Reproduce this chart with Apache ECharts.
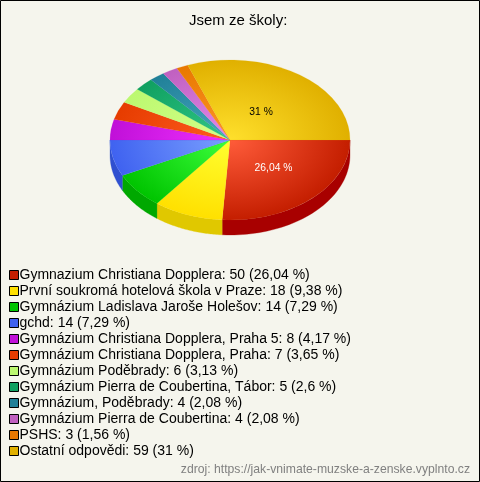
<!DOCTYPE html>
<html><head><meta charset="utf-8">
<style>html,body{margin:0;padding:0;background:#f5f5ed}#c{width:480px;height:482px}</style>
<script src="https://cdn.jsdelivr.net/npm/echarts@6/dist/echarts.min.js"></script>
</head><body><div id="c"></div>
<script>
const names = ["Gymnazium Christiana Dopplera","První soukromá hotelová škola v Praze","Gymnázium Ladislava Jaroše Holešov","gchd","Gymnázium Christiana Dopplera, Praha 5","Gymnázium Christiana Dopplera, Praha","Gymnázium Poděbrady","Gymnázium Pierra de Coubertina, Tábor","Gymnázium, Poděbrady","Gymnázium Pierra de Coubertina","PSHS","Ostatní odpovědi"];
const values = [50,18,14,14,8,7,6,5,4,4,3,59];
const percents = ["26,04","9,38","7,29","7,29","4,17","3,65","3,13","2,6","2,08","2,08","1,56","31"];
const innerColors = ["#ff5c3a","#ffff30","#3cff3c","#7aa0ff","#f030ff","#ff5c20","#d4ff88","#30c888","#48a8c0","#e488ec","#ff9428","#ffe02c"];
const edgeColors = ["#c41e00","#ffe000","#00c400","#3f62f0","#c010d8","#e63c00","#bcf870","#10a060","#208098","#c060c0","#e87800","#e0b000"];
const wallColors = ["#a80000","#e0c800","#00a800","#3050d0","#9000a8","#b83000","#98c858","#0c8050","#186880","#984898","#b86000","#b08c00"];
const labelColors = {0:"#ffffff",11:"#000000"};

const CX=230, CY=140, RX=120, RY=80, DEPTH=15;
const LABEL_F = {0:[0.53,0.48],11:[0.455,0.42]};
const total = values.reduce((a,b)=>a+b,0);
const starts = []; let acc = 0;
values.forEach(v=>{starts.push(acc/total*Math.PI*2); acc+=v;});

function renderSlice(i){
  return function(params, api){
    const a0 = starts[i], a1 = a0 + values[i]/total*Math.PI*2;
    const kids = [];
    const w0 = Math.max(a0,0), w1 = Math.min(a1,Math.PI);
    if (w1 > w0){
      const pts = [], n = 48;
      for(let k=0;k<=n;k++){const t=w0+(w1-w0)*k/n; pts.push([CX+RX*Math.cos(t),CY+RY*Math.sin(t)]);}
      for(let k=n;k>=0;k--){const t=w0+(w1-w0)*k/n; pts.push([CX+RX*Math.cos(t),CY+DEPTH+RY*Math.sin(t)]);}
      kids.push({type:'polygon',shape:{points:pts},style:{fill:wallColors[i],stroke:wallColors[i],lineWidth:0.3}});
    }
    kids.push({type:'sector',
      shape:{cx:CX,cy:CY,r:RX,r0:0,startAngle:a0,endAngle:a1,clockwise:true},
      originX:CX,originY:CY,scaleY:RY/RX,
      style:{fill:{type:'radial',x:CX,y:CY,r:RX,global:true,
        colorStops:[{offset:0,color:innerColors[i]},{offset:1,color:edgeColors[i]}]},
        stroke:edgeColors[i],lineWidth:0.2}});
    if (labelColors[i]){
      const m=(a0+a1)/2, f=LABEL_F[i];
      kids.push({type:'text',x:CX+RX*f[0]*Math.cos(m),y:CY+RY*f[1]*Math.sin(m),
        style:{text:percents[i]+' %',fill:labelColors[i],font:'10.3px "Liberation Sans",Arial,sans-serif',align:'center',verticalAlign:'middle'}});
    }
    return {type:'group',children:kids};
  };
}
const legendName = i => names[i]+': '+values[i]+' ('+percents[i]+' %)';
const chart = echarts.init(document.getElementById('c'),null,{renderer:'canvas'});
chart.setOption({
  backgroundColor:'#f5f5ed',animation:false,
  title:[
    {text:'Jsem ze školy:',left:189,top:13,padding:0,textStyle:{fontFamily:'"Liberation Sans"',fontSize:15,fontWeight:'normal',color:'#000'}},
    {text:'zdroj: https://jak-vnimate-muzske-a-zenske.vyplnto.cz',right:10,top:464,padding:0,textStyle:{fontFamily:'"Liberation Sans"',fontSize:12.2,fontWeight:'normal',color:'#808080'}}
  ],
  legend:{orient:'vertical',left:9,top:268,padding:0,itemWidth:9,itemHeight:9,itemGap:2,selectedMode:false,icon:'rect',
    data:names.map((n,i)=>({name:legendName(i),icon:'rect',itemStyle:{color:edgeColors[i],borderColor:'#000',borderWidth:1}})),
    textStyle:{fontFamily:'"Liberation Sans"',fontSize:14,color:'#000',padding:[0,0,0,-4],lineHeight:12}},
  graphic:[{type:'rect',shape:{x:0.5,y:0.5,width:479,height:481},style:{fill:'none',stroke:'#000',lineWidth:1},silent:true}],
  xAxis:{show:false},yAxis:{show:false},
  series:values.map((v,i)=>({type:'custom',name:legendName(i),coordinateSystem:'none',data:[v],silent:true,
    itemStyle:{color:edgeColors[i]},renderItem:renderSlice(i)}))
});
</script></body></html>
